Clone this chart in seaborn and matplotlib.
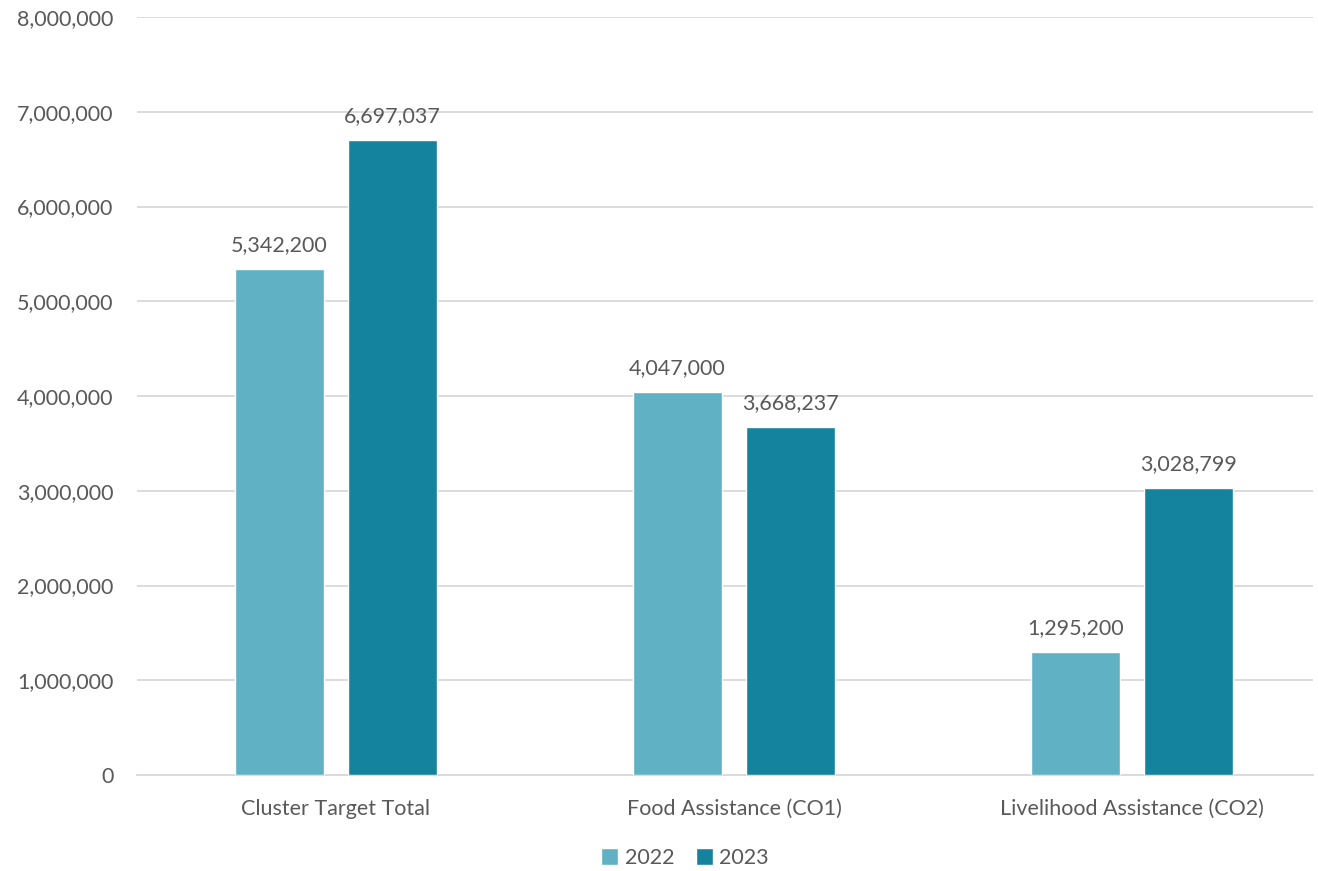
import matplotlib
matplotlib.use('Agg')
import matplotlib.pyplot as plt
import seaborn as sns
import pandas as pd
from matplotlib.ticker import FuncFormatter

# datos del grafico
categories = ['Cluster Target Total', 'Food Assistance (CO1)', 'Livelihood Assistance (CO2)']
years = ['2022', '2023']
values_2022 = [5342200, 4047000, 1295200]
values_2023 = [6697037, 3668237, 3028799]

df = pd.DataFrame({
    'category': categories * 2,
    'year': ['2022'] * 3 + ['2023'] * 3,
    'value': values_2022 + values_2023,
})

sns.set_style('white')
plt.rcParams['font.family'] = ['Lato', 'DejaVu Sans']
text_color = '#595959'
grid_color = '#D9D9D9'
palette = {'2022': '#60B1C3', '2023': '#14839E'}

fig = plt.figure(figsize=(13.18, 8.71), dpi=100)
ax = fig.add_axes([137 / 1318, 1 - 775 / 871, (1313 - 137) / 1318, (775 - 17) / 871])

sns.barplot(data=df, x='category', y='value', hue='year', hue_order=years,
            palette=palette, width=0.568, gap=0.213, ax=ax, zorder=3,
            saturation=1, legend=True)

# etiquetas de valores
for cont in ax.containers:
    ax.bar_label(cont, labels=[f'{v:,.0f}' for v in cont.datavalues],
                 padding=10, fontsize=15.5, color=text_color)

ax.set_ylim(0, 8000000)
ax.set_yticks(range(0, 8000001, 1000000))
ax.yaxis.set_major_formatter(FuncFormatter(lambda v, p: f'{v:,.0f}'))
ax.set_xlim(-0.5, 2.455)
ax.grid(axis='y', color=grid_color, linewidth=1.3, zorder=0)
ax.set_axisbelow(True)
for s in ['top', 'right', 'left']:
    ax.spines[s].set_visible(False)
ax.spines['bottom'].set_color(grid_color)
ax.spines['bottom'].set_linewidth(1.3)
ax.tick_params(axis='both', length=0, labelsize=15.5, labelcolor=text_color)
ax.tick_params(axis='y', pad=17)
ax.tick_params(axis='x', pad=17)
ax.set_xlabel('')
ax.set_ylabel('')

ax.legend(loc='center', bbox_to_anchor=(685 / 1318, 1 - 858 / 871),
          bbox_transform=fig.transFigure, ncol=2, frameon=False,
          fontsize=15.5, labelcolor=text_color, handlelength=0.8, handleheight=0.8,
          handletextpad=0.3, columnspacing=1.0)

fig.savefig('out.png', dpi=100)
